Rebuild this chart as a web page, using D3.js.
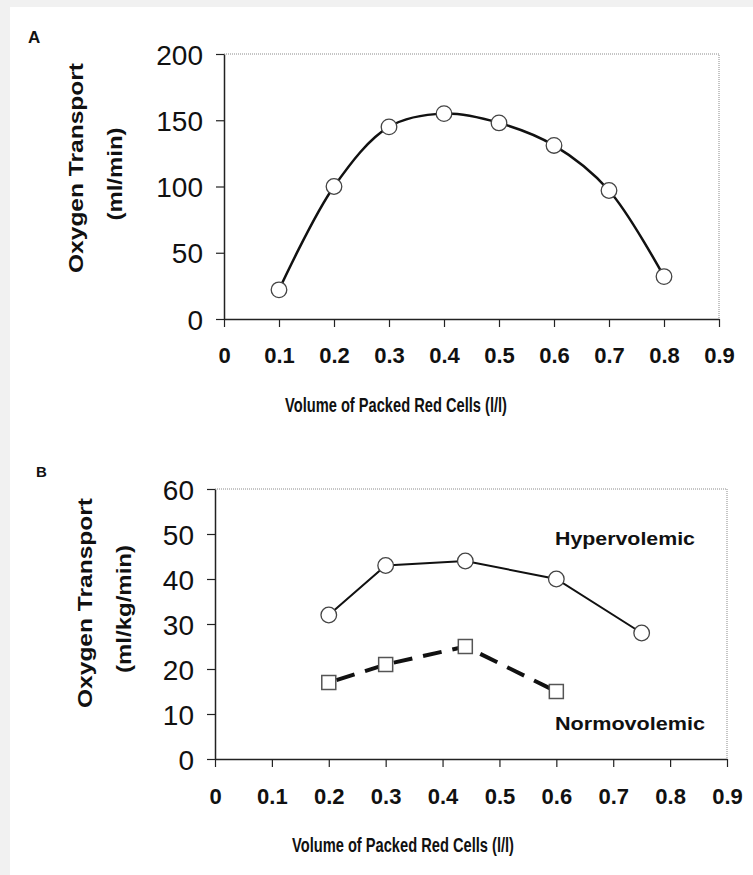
<!DOCTYPE html>
<html>
<head>
<meta charset="utf-8">
<script src="https://cdn.jsdelivr.net/npm/d3@7"></script>
<style>
  body { margin: 0; background: #fff; }
  svg text { font-family: "Liberation Sans", Arial, sans-serif; fill: #111; }
</style>
</head>
<body>
<script>
// Chart data
var xTicks = [0, 0.1, 0.2, 0.3, 0.4, 0.5, 0.6, 0.7, 0.8, 0.9];
var xTickLabels = ["0", "0.1", "0.2", "0.3", "0.4", "0.5", "0.6", "0.7", "0.8", "0.9"];

// Panel A
var pcvA = [0.1, 0.2, 0.3, 0.4, 0.5, 0.6, 0.7, 0.8];
var transportA = [22, 100, 145, 155, 148, 131, 97, 32];
var yTicksA = [0, 50, 100, 150, 200];

// Panel B
var pcvHyper = [0.2, 0.3, 0.44, 0.6, 0.75];
var transportHyper = [32, 43, 44, 40, 28];
var pcvNormo = [0.2, 0.3, 0.44, 0.6];
var transportNormo = [17, 21, 25, 15];
var yTicksB = [0, 10, 20, 30, 40, 50, 60];

var svg = d3.select("body").append("svg")
    .attr("width", 753)
    .attr("height", 875);

// scanned page look: light grey strip on the left and top
svg.append("rect").attr("width", 753).attr("height", 875).attr("fill", "#f1f1f1");
svg.append("rect").attr("x", 10).attr("y", 7)
    .attr("width", 743).attr("height", 868).attr("fill", "#fff");

function zip(xs, ys) {
    return xs.map(function(x, i) { return {x: x, y: ys[i]}; });
}

// draws the frame, axes and titles of one panel, returns the scales
function drawPanel(p) {
    var x = d3.scaleLinear().domain([0, 0.9]).range([p.left, p.right]);
    var y = d3.scaleLinear().domain([0, p.yMax]).range([p.bottom, p.top]);

    // dotted top and right edges of the plot area
    svg.append("path")
        .attr("d", "M" + p.left + "," + p.top + "H" + p.right + "V" + p.bottom)
        .attr("fill", "none")
        .attr("stroke", "#8a8a8a")
        .attr("stroke-width", 1)
        .attr("stroke-dasharray", "1,1");

    var yAxis = d3.axisLeft(y).tickValues(p.yTicks)
        .tickSize(8).tickSizeOuter(0).tickPadding(13);
    var gy = svg.append("g")
        .attr("transform", "translate(" + p.left + ",0)")
        .call(yAxis);
    gy.selectAll("text")
        .attr("font-size", "28px")
        .attr("dy", "0.36em");

    var xAxis = d3.axisBottom(x).tickValues(xTicks)
        .tickSize(8).tickSizeOuter(0).tickPadding(0)
        .tickFormat(function(d, i) { return xTickLabels[i]; });
    var gx = svg.append("g")
        .attr("transform", "translate(0," + p.bottom + ")")
        .call(xAxis);
    gx.selectAll("text")
        .attr("font-size", "22px")
        .attr("font-weight", "bold")
        .attr("y", p.xLabelBase - p.bottom)
        .attr("dy", 0);

    svg.selectAll(".domain").attr("stroke", "#222").attr("stroke-width", 1.5);
    svg.selectAll(".tick line").attr("stroke", "#222").attr("stroke-width", 1.2);

    // x axis title
    svg.append("text")
        .attr("x", p.xTitleX)
        .attr("y", p.xTitleBase)
        .attr("font-size", "20px")
        .attr("font-weight", "bold")
        .attr("textLength", 222)
        .attr("lengthAdjust", "spacingAndGlyphs")
        .text("Volume of Packed Red Cells (l/l)");

    // y axis title, two rotated lines
    svg.append("text")
        .attr("text-anchor", "middle")
        .attr("transform", "translate(" + p.yTitle1[0] + "," + p.yTitle1[1] + ")rotate(-90)")
        .attr("font-size", "21px")
        .attr("font-weight", "bold")
        .attr("textLength", 210)
        .attr("lengthAdjust", "spacingAndGlyphs")
        .text("Oxygen Transport");
    svg.append("text")
        .attr("text-anchor", "middle")
        .attr("transform", "translate(" + p.yTitle2[0] + "," + p.yTitle2[1] + ")rotate(-90)")
        .attr("font-size", "21px")
        .attr("font-weight", "bold")
        .attr("textLength", p.unitLength)
        .attr("lengthAdjust", "spacingAndGlyphs")
        .text(p.unit);

    // panel letter
    svg.append("text")
        .attr("x", p.letterPos[0])
        .attr("y", p.letterPos[1])
        .attr("font-size", p.letterSize)
        .attr("font-weight", "bold")
        .text(p.letter);

    return {x: x, y: y};
}

// ---------------- Panel A ----------------
var a = drawPanel({
    left: 224, right: 719, top: 54, bottom: 319, yMax: 200,
    yTicks: yTicksA, xLabelBase: 363, xTitleX: 285, xTitleBase: 412,
    yTitle1: [83, 168], yTitle2: [122, 174], unit: "(ml/min)", unitLength: 93,
    letter: "A", letterPos: [28, 43], letterSize: "17px"
});

var lineA = d3.line()
    .x(function(d) { return a.x(d.x); })
    .y(function(d) { return a.y(d.y); })
    .curve(d3.curveCatmullRom.alpha(0.5));

var dataA = zip(pcvA, transportA);
svg.append("path")
    .datum(dataA)
    .attr("d", lineA)
    .attr("fill", "none")
    .attr("stroke", "#111")
    .attr("stroke-width", 2.5);

svg.selectAll("circle.a")
    .data(dataA)
    .enter()
    .append("circle")
    .attr("class", "a")
    .attr("cx", function(d) { return a.x(d.x); })
    .attr("cy", function(d) { return a.y(d.y); })
    .attr("r", 7.8)
    .attr("fill", "#fff")
    .attr("stroke", "#444")
    .attr("stroke-width", 1.3);

// ---------------- Panel B ----------------
var b = drawPanel({
    left: 215, right: 727, top: 489, bottom: 759, yMax: 60,
    yTicks: yTicksB, xLabelBase: 804, xTitleX: 292, xTitleBase: 852,
    yTitle1: [92, 603], yTitle2: [131, 609], unit: "(ml/kg/min)", unitLength: 128,
    letter: "B", letterPos: [36, 477], letterSize: "15px"
});

var lineB = d3.line()
    .x(function(d) { return b.x(d.x); })
    .y(function(d) { return b.y(d.y); });

var dataHyper = zip(pcvHyper, transportHyper);
var dataNormo = zip(pcvNormo, transportNormo);

svg.append("path")
    .datum(dataHyper)
    .attr("d", lineB)
    .attr("fill", "none")
    .attr("stroke", "#111")
    .attr("stroke-width", 2);

svg.append("path")
    .datum(dataNormo)
    .attr("d", lineB)
    .attr("fill", "none")
    .attr("stroke", "#111")
    .attr("stroke-width", 4)
    .attr("stroke-dasharray", "19,11")
    .attr("stroke-dashoffset", -8);

svg.selectAll("circle.hyper")
    .data(dataHyper)
    .enter()
    .append("circle")
    .attr("class", "hyper")
    .attr("cx", function(d) { return b.x(d.x); })
    .attr("cy", function(d) { return b.y(d.y); })
    .attr("r", 7.8)
    .attr("fill", "#fff")
    .attr("stroke", "#444")
    .attr("stroke-width", 1.3);

var sq = 14;
svg.selectAll("rect.normo")
    .data(dataNormo)
    .enter()
    .append("rect")
    .attr("class", "normo")
    .attr("x", function(d) { return b.x(d.x) - sq / 2; })
    .attr("y", function(d) { return b.y(d.y) - sq / 2; })
    .attr("width", sq)
    .attr("height", sq)
    .attr("fill", "#fff")
    .attr("stroke", "#555")
    .attr("stroke-width", 1.5);

// series labels
svg.append("text")
    .attr("x", 555).attr("y", 545)
    .attr("font-size", "19px").attr("font-weight", "bold")
    .attr("textLength", 140).attr("lengthAdjust", "spacingAndGlyphs")
    .text("Hypervolemic");
svg.append("text")
    .attr("x", 555).attr("y", 730)
    .attr("font-size", "19px").attr("font-weight", "bold")
    .attr("textLength", 150).attr("lengthAdjust", "spacingAndGlyphs")
    .text("Normovolemic");
</script>
</body>
</html>
